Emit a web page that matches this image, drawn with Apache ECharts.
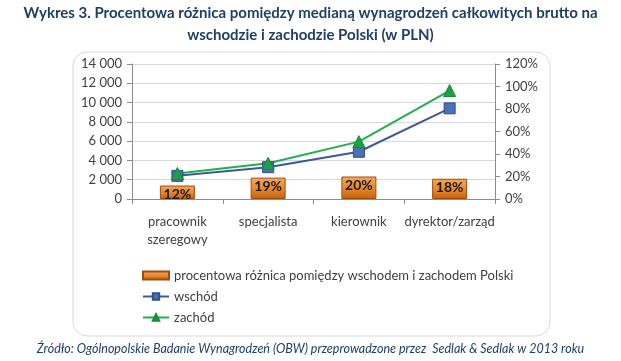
<!DOCTYPE html>
<html><head><meta charset="utf-8">
<script src="https://cdn.jsdelivr.net/npm/echarts@6/dist/echarts.min.js"></script>
<style>html,body{margin:0;padding:0;background:#fff}#c{width:621px;height:361px}</style>
</head><body><div id="c"></div>
<script>
const categories = ['pracownik\nszeregowy', 'specjalista', 'kierownik', 'dyrektor/zarząd'];
const roznica = [12, 19, 20, 18];
const wschod = [2400, 3300, 4900, 9400];
const zachod = [2650, 3700, 5950, 11250];
const seriesNames = ['procentowa różnica pomiędzy wschodem i zachodem Polski', 'wschód', 'zachód'];
const titleLines = ['Wykres 3. Procentowa różnica pomiędzy medianą wynagrodzeń całkowitych brutto na', 'wschodzie i zachodzie Polski (w PLN)'];
const sourceText = 'Źródło: Ogólnopolskie Badanie Wynagrodzeń (OBW) przeprowadzone przez  Sedlak & Sedlak w 2013 roku';

const FONT = 'Lato';
const chart = echarts.init(document.getElementById('c'), null, {renderer: 'canvas'});
const fmtK = v => String(v).replace(/\B(?=(\d{3})+(?!\d))/g, ' ');
chart.setOption({
  animation: false,
  textStyle: {fontFamily: FONT},
  graphic: [
    {type: 'rect', shape: {x: 73, y: 52, width: 477, height: 284, r: 14}, style: {fill: '#fff', stroke: '#d9d9d9', lineWidth: 1}, z: -10},
    {type: 'text', left: 'center', top: 6, style: {text: titleLines[0], font: 'bold 15px ' + FONT, fill: '#1F3F66'}},
    {type: 'text', left: 'center', top: 28, style: {text: titleLines[1], font: 'bold 15px ' + FONT, fill: '#1F3F66'}},
    {type: 'text', left: 'center', top: 342, style: {text: sourceText, font: 'italic 12.5px ' + FONT, fill: '#1F3F66'}}
  ],
  grid: {left: 132, right: 126, top: 64, bottom: 162},
  legend: {
    orient: 'vertical', left: 137, top: 264, itemGap: 8, itemWidth: 26, itemHeight: 8,
    textStyle: {fontSize: 13, color: '#404040', fontFamily: FONT},
    data: [{name: seriesNames[0], icon: 'rect'}, seriesNames[1], seriesNames[2]]
  },
  xAxis: {
    type: 'category', data: categories,
    axisLine: {lineStyle: {color: '#8c8c8c'}},
    axisTick: {show: true, length: 5, lineStyle: {color: '#8c8c8c'}},
    axisLabel: {color: '#404040', fontSize: 13, margin: 14, lineHeight: 18, interval: 0}
  },
  yAxis: [
    {type: 'value', min: 0, max: 14000, interval: 2000,
     axisLine: {show: true, lineStyle: {color: '#8c8c8c'}},
     axisTick: {show: true, length: 5, lineStyle: {color: '#8c8c8c'}},
     splitLine: {lineStyle: {color: '#d9d9d9'}},
     axisLabel: {color: '#404040', fontSize: 13, margin: 10, formatter: fmtK}},
    {type: 'value', min: 0, max: 120, interval: 20,
     axisLine: {show: true, lineStyle: {color: '#8c8c8c'}},
     axisTick: {show: true, length: 5, lineStyle: {color: '#8c8c8c'}},
     splitLine: {show: false},
     axisLabel: {color: '#404040', fontSize: 13, margin: 10, formatter: v => v + '%'}}
  ],
  series: [
    {name: seriesNames[0], type: 'bar', yAxisIndex: 1, data: roznica, barWidth: 35,
     itemStyle: {color: new echarts.graphic.LinearGradient(0,0,0,1,[{offset:0,color:'#F5A85A'},{offset:0.5,color:'#E98A2C'},{offset:1,color:'#C0620F'}]), borderColor: '#9C4E12', borderWidth: 1},
     label: {show: true, position: 'insideTop', distance: 2, formatter: '{c}%', fontSize: 14, fontWeight: 'bold', color: '#1a1a1a'}},
    {name: seriesNames[1], type: 'line', data: wschod, yAxisIndex: 0, symbol: 'rect', symbolSize: 11,
     lineStyle: {color: '#3A5A96', width: 2}, itemStyle: {color: '#4A72B8', borderColor: '#2F4E86', borderWidth: 1}},
    {name: seriesNames[2], type: 'line', data: zachod, yAxisIndex: 0, symbol: 'triangle', symbolSize: 12,
     lineStyle: {color: '#22B04C', width: 2}, itemStyle: {color: '#1FA045', borderColor: '#168A38', borderWidth: 1}}
  ]
});
</script></body></html>
